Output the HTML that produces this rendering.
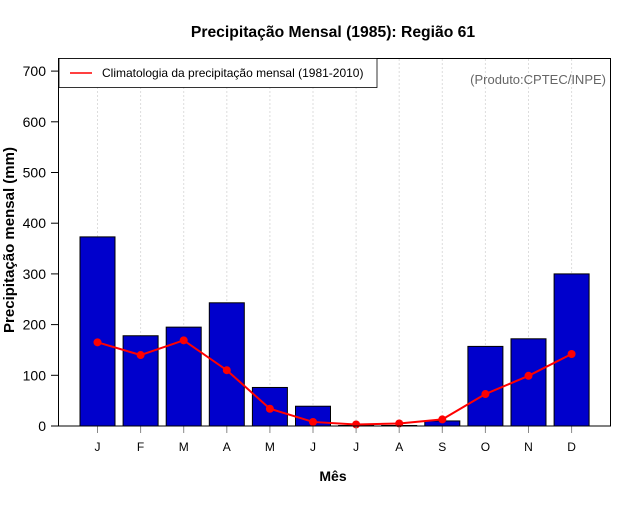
<!DOCTYPE html>
<html><head><meta charset="utf-8"><style>
body{margin:0;background:#fff}
svg text{font-family:"Liberation Sans",sans-serif}
</style></head><body>
<svg id="c" width="640" height="500" xmlns="http://www.w3.org/2000/svg">
<rect width="640" height="500" fill="#fff"/>
<text x="333" y="37" text-anchor="middle" font-size="15.7" font-weight="bold">Precipitação Mensal (1985): Região 61</text>
<text x="333" y="481" text-anchor="middle" font-size="14" font-weight="bold">Mês</text>
<text transform="translate(14,240) rotate(-90)" text-anchor="middle" font-size="15" font-weight="bold">Precipitação mensal (mm)</text>
<g id="grid"></g><g id="bars"></g><g id="line"></g><g id="axes"></g>
<rect x="58.5" y="58.5" width="552" height="367.5" fill="none" stroke="#000" stroke-width="1"/>
<g>
<rect x="59" y="58.5" width="318" height="29" fill="#fff" stroke="#000" stroke-width="0.8"/>
<line x1="70" y1="73" x2="92" y2="73" stroke="#f00" stroke-width="1.5"/>
<text x="102" y="77" font-size="12">Climatologia da precipitação mensal (1981-2010)</text>
</g>
<text x="606" y="84" text-anchor="end" font-size="13" fill="#666">(Produto:CPTEC/INPE)</text>
</svg>
<script>
const months=["J","F","M","A","M","J","J","A","S","O","N","D"];
const precip=[373,178,195,243,76,39,1,1,10,157,172,300];
const clim=[165,140,169,110,34,8,3,5,13,63,99,142];
const yTicks=[0,100,200,300,400,500,600,700];
const NS="http://www.w3.org/2000/svg";
const xS=i=>97.5+i*43.1;
const yS=v=>426-v*0.507;
function mk(t,a,p){const e=document.createElementNS(NS,t);for(const k in a)e.setAttribute(k,a[k]);document.getElementById(p).appendChild(e);return e;}
months.forEach((m,i)=>{
 const g=mk("line",{x1:xS(i),x2:xS(i),y1:59,y2:426,stroke:"#ddd","stroke-dasharray":"2,2"},"grid");
 
 
 const b=mk("rect",{x:xS(i)-17.5,y:yS(precip[i]),width:35,height:426-yS(precip[i]),fill:"#0000cc",stroke:"#000","stroke-width":1},"bars");
 
 
 const t=mk("line",{x1:xS(i),x2:xS(i),y1:426,y2:433,stroke:"#888"},"axes");
 
 
 const l=mk("text",{x:xS(i),y:451,"text-anchor":"middle","font-size":12},"axes");l.textContent=m;
 
 
});
const pl=mk("polyline",{points:clim.map((v,i)=>xS(i)+","+yS(v)).join(" "),fill:"none",stroke:"#f00","stroke-width":2},"line");


clim.forEach((v,i)=>{const c=mk("circle",{cx:xS(i),cy:yS(v),r:4,fill:"#f00"},"line");
 
 });
yTicks.forEach(v=>{
 const t=mk("line",{x1:51,x2:58,y1:yS(v),y2:yS(v),stroke:"#000"},"axes");
 
 
 const l=mk("text",{x:46,y:yS(v)+5,"text-anchor":"end","font-size":14},"axes");l.textContent=v;
 
 
});
</script>
</body></html>
